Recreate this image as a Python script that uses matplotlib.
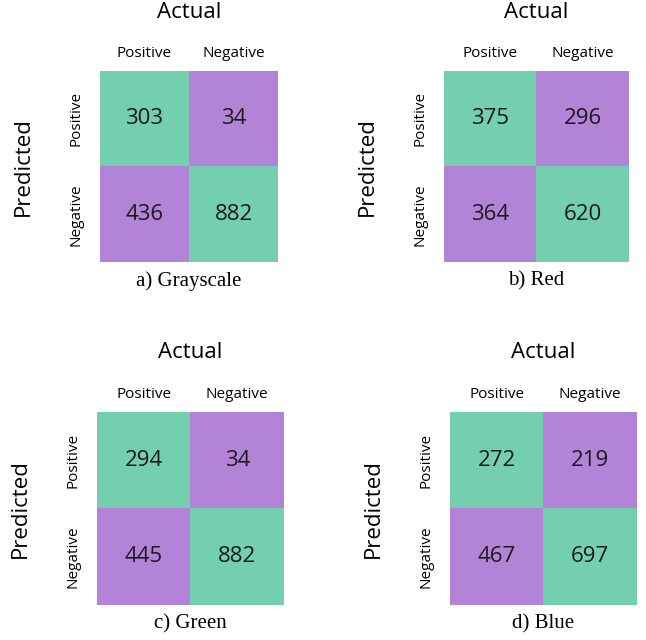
import matplotlib
matplotlib.use("Agg")
import matplotlib.pyplot as plt
from matplotlib.colors import ListedColormap
import numpy as np

# confusion matrices, rows = predicted (Positive, Negative), cols = actual
grayscale = [[303, 34], [436, 882]]
red = [[375, 296], [364, 620]]
green = [[294, 34], [445, 882]]
blue = [[272, 219], [467, 697]]

matrices = [grayscale, red, green, blue]
captions = ["a) Grayscale", "b) Red", "c) Green", "d) Blue"]
class_labels = ["Positive", "Negative"]

GREEN = "#73cfae"
PURPLE = "#b383d8"
SANS = ["Open Sans", "DejaVu Sans"]
SERIF = ["Liberation Serif", "DejaVu Serif"]

W, H = 646, 640
fig = plt.figure(figsize=(W / 100, H / 100), dpi=100)

# axes boxes in pixels: left, top, right, bottom
boxes = [(100, 71, 278, 262), (444, 71, 629, 262),
         (97, 412, 284, 605), (450, 412, 637, 605)]

PX = 0.72  # points per pixel at dpi 100

for mat, cap, (l, t, r, b) in zip(matrices, captions, boxes):
    ax = fig.add_axes([l / W, (H - b) / H, (r - l) / W, (b - t) / H])
    mat = np.array(mat)
    # diagonal cells green, off-diagonal purple
    cls = np.eye(2)
    ax.imshow(cls, cmap=ListedColormap([PURPLE, GREEN]), aspect="auto",
              vmin=0, vmax=1)
    for i in range(2):
        for j in range(2):
            ax.text(j, i, str(mat[i, j]), ha="center", va="center",
                    fontsize=16, family=SANS, color="#1a1a1a")

    ax.set_xticks(range(2))
    ax.set_yticks(range(2))
    ax.set_xticklabels(class_labels, family=SANS, fontsize=11)
    ax.set_yticklabels(class_labels, family=SANS, fontsize=11,
                       rotation=90, va="center")
    ax.xaxis.tick_top()
    ax.tick_params(axis="x", length=0, pad=7)
    ax.tick_params(axis="y", length=0, pad=12)
    for s in ax.spines.values():
        s.set_visible(False)

    ax.annotate("Actual", xy=(0.5, 1), xycoords="axes fraction",
                xytext=(0, 59 * PX), textcoords="offset points",
                ha="center", va="center", fontsize=16, family=SANS)
    ax.annotate("Predicted", xy=(0, 0.5), xycoords="axes fraction",
                xytext=(-77 * PX, 0), textcoords="offset points",
                ha="center", va="center", rotation=90, fontsize=16,
                family=SANS)
    ax.annotate(cap, xy=(0.5, 0), xycoords="axes fraction",
                xytext=(0, -19 * PX), textcoords="offset points",
                ha="center", va="center", fontsize=15, family=SERIF)

fig.savefig("out.png", dpi=100, facecolor="white")
